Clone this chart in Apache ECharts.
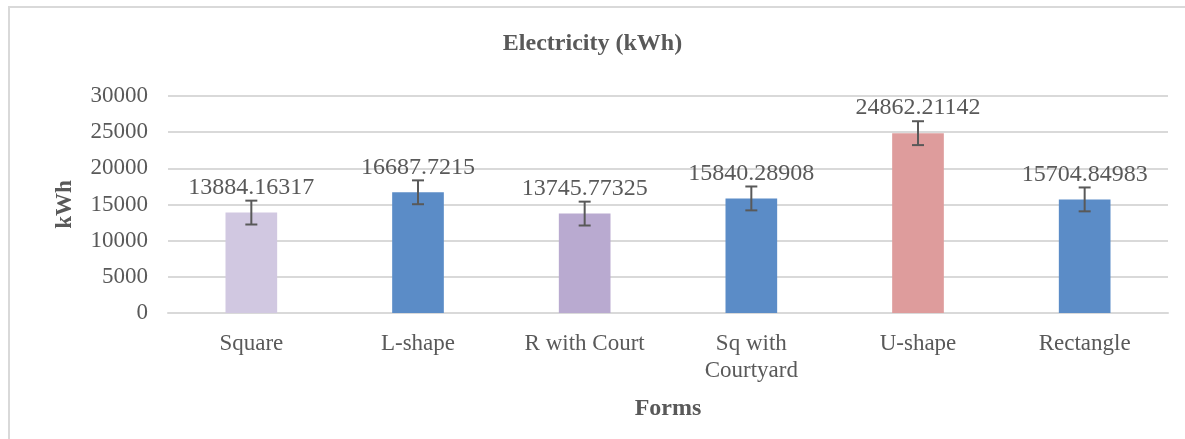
<!DOCTYPE html>
<html>
<head>
<meta charset="utf-8">
<script src="https://cdn.jsdelivr.net/npm/echarts@6/dist/echarts.min.js"></script>
<style>
html,body{margin:0;padding:0;background:#fff;overflow:hidden;}
#main{width:1185px;height:439px;}
</style>
</head>
<body>
<div id="main"></div>
<script>
const categories = ['Square', 'L-shape', 'R with Court', 'Sq with\nCourtyard', 'U-shape', 'Rectangle'];
const values = [13884.16317, 16687.7215, 13745.77325, 15840.28908, 24862.21142, 15704.84983];
const errors = [1650, 1650, 1650, 1650, 1650, 1650];
const barColors = ['#d1c8e1', '#5b8cc7', '#b9aad0', '#5b8cc7', '#de9c9c', '#5b8cc7'];
const yTicks = { min: 0, max: 30000, interval: 5000 };

const font = '"Liberation Serif", "Times New Roman", serif';
const textColor = '#595959';

const chart = echarts.init(document.getElementById('main'));
chart.setOption({
  animation: false,
  graphic: [{
    type: 'rect',
    shape: { x: 9, y: 7, width: 1400, height: 600 },
    style: { fill: 'none', stroke: '#d9d9d9', lineWidth: 2 },
    silent: true
  }],
  title: {
    text: 'Electricity (kWh)',
    left: 'center',
    top: 27,
    textStyle: { fontFamily: font, fontWeight: 'bold', fontSize: 24, color: textColor }
  },
  grid: { left: 168, right: 17, top: 96, bottom: 126, containLabel: false },
  xAxis: {
    type: 'category',
    data: categories,
    name: 'Forms',
    nameLocation: 'middle',
    nameGap: 84,
    nameTextStyle: { fontFamily: font, fontWeight: 'bold', fontSize: 24, color: textColor },
    axisLine: { lineStyle: { color: '#d9d9d9', width: 2 } },
    axisTick: { show: false },
    axisLabel: { fontFamily: font, fontSize: 23, color: textColor, margin: 17, lineHeight: 27, interval: 0 }
  },
  yAxis: {
    type: 'value',
    min: yTicks.min,
    max: yTicks.max,
    interval: yTicks.interval,
    name: 'kWh',
    nameLocation: 'middle',
    nameGap: 91,
    nameRotate: 90,
    nameTextStyle: { fontFamily: font, fontWeight: 'bold', fontSize: 23, color: textColor },
    axisLine: { show: false },
    axisTick: { show: false },
    axisLabel: { fontFamily: font, fontSize: 23, color: textColor, margin: 20, formatter: v => String(v) },
    splitLine: { lineStyle: { color: '#d9d9d9', width: 2 } }
  },
  series: [{
    type: 'bar',
    data: values.map((v, i) => ({ value: v, itemStyle: { color: barColors[i] } })),
    barWidth: '31%',
    label: {
      show: true,
      position: 'top',
      distance: 13,
      fontFamily: font,
      fontSize: 24,
      color: textColor,
      formatter: p => String(values[p.dataIndex])
    },
    z: 2
  }, {
    type: 'custom',
    data: values.map((v, i) => [i, v - errors[i], v + errors[i]]),
    renderItem: function (params, api) {
      const lo = api.coord([api.value(0), api.value(1)]);
      const hi = api.coord([api.value(0), api.value(2)]);
      const x = lo[0];
      const hw = 6;
      const st = { stroke: '#595959', lineWidth: 2 };
      return {
        type: 'group',
        children: [
          { type: 'line', shape: { x1: x, y1: lo[1], x2: x, y2: hi[1] }, style: st },
          { type: 'line', shape: { x1: x - hw, y1: lo[1], x2: x + hw, y2: lo[1] }, style: st },
          { type: 'line', shape: { x1: x - hw, y1: hi[1], x2: x + hw, y2: hi[1] }, style: st }
        ]
      };
    },
    z: 5
  }]
});
</script>
</body>
</html>
